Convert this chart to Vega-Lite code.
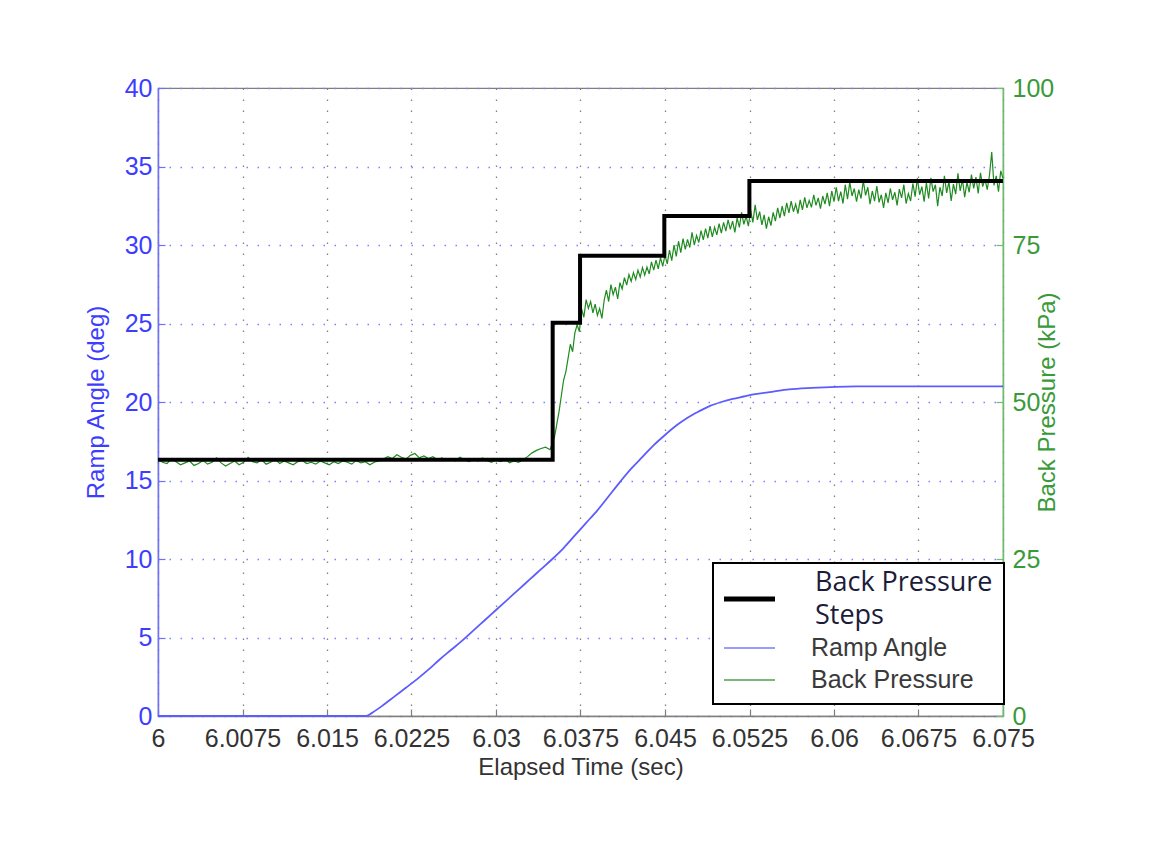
{
  "$schema": "https://vega.github.io/schema/vega-lite/v6.json",
  "width": 845,
  "height": 628,
  "autosize": {"type": "none"},
  "padding": {"left": 158, "top": 88, "right": 151, "bottom": 143},
  "background": "white",
  "config": {
    "view": {"stroke": "#7f7f7f", "strokeWidth": 1.2},
    "axis": {"labelFont": "Liberation Sans", "titleFont": "Liberation Sans", "labelFontSize": 25, "titleFontSize": 24, "titleFontWeight": "normal", "tickSize": -7, "tickWidth": 1.2, "domainWidth": 1.5, "labelFlush": false, "labelOverlap": false}
  },
  "datasets": {
    "ramp": [
      {"t": 6.0, "deg": 0}, {"t": 6.0185, "deg": 0}, {"t": 6.019, "deg": 0.2}, {"t": 6.02, "deg": 0.7}, {"t": 6.021, "deg": 1.25}, {"t": 6.022, "deg": 1.8}, {"t": 6.023, "deg": 2.35}, {"t": 6.024, "deg": 2.95}, {"t": 6.025, "deg": 3.6}, {"t": 6.026, "deg": 4.2}, {"t": 6.027, "deg": 4.8}, {"t": 6.028, "deg": 5.45}, {"t": 6.029, "deg": 6.1}, {"t": 6.03, "deg": 6.75}, {"t": 6.031, "deg": 7.4}, {"t": 6.032, "deg": 8.05}, {"t": 6.033, "deg": 8.7}, {"t": 6.034, "deg": 9.35}, {"t": 6.035, "deg": 10.0}, {"t": 6.036, "deg": 10.7}, {"t": 6.037, "deg": 11.5}, {"t": 6.038, "deg": 12.3}, {"t": 6.039, "deg": 13.1}, {"t": 6.04, "deg": 14.0}, {"t": 6.041, "deg": 14.9}, {"t": 6.042, "deg": 15.75}, {"t": 6.043, "deg": 16.5}, {"t": 6.044, "deg": 17.25}, {"t": 6.045, "deg": 17.9}, {"t": 6.046, "deg": 18.5}, {"t": 6.047, "deg": 19.0}, {"t": 6.048, "deg": 19.4}, {"t": 6.049, "deg": 19.75}, {"t": 6.05, "deg": 20.0}, {"t": 6.051, "deg": 20.2}, {"t": 6.052, "deg": 20.35}, {"t": 6.053, "deg": 20.5}, {"t": 6.0545, "deg": 20.65}, {"t": 6.056, "deg": 20.8}, {"t": 6.058, "deg": 20.9}, {"t": 6.062, "deg": 21.0}, {"t": 6.075, "deg": 21.0}
    ],
    "steps": [
      {"t": 6.0, "kpa": 40.8}, {"t": 6.03503, "kpa": 62.6}, {"t": 6.03746, "kpa": 73.3}, {"t": 6.04494, "kpa": 79.6}, {"t": 6.05249, "kpa": 85.2}, {"t": 6.075, "kpa": 85.2}
    ],
    "bp": [
      {"t":6.0000,"p":40.9},{"t":6.0004,"p":40.4},{"t":6.0008,"p":40.2},{"t":6.0012,"p":41.0},{"t":6.0016,"p":40.5},{"t":6.0020,"p":40.0},{"t":6.0024,"p":40.3},{"t":6.0028,"p":40.6},{"t":6.0032,"p":39.9},{"t":6.0036,"p":40.2},
      {"t":6.0040,"p":40.7},{"t":6.0044,"p":40.1},{"t":6.0048,"p":40.4},{"t":6.0052,"p":41.1},{"t":6.0056,"p":40.3},{"t":6.0060,"p":39.8},{"t":6.0064,"p":40.2},{"t":6.0068,"p":40.6},{"t":6.0072,"p":40.0},{"t":6.0076,"p":40.4},
      {"t":6.0080,"p":41.2},{"t":6.0084,"p":40.5},{"t":6.0088,"p":40.3},{"t":6.0092,"p":40.8},{"t":6.0096,"p":40.1},{"t":6.0100,"p":40.4},{"t":6.0104,"p":40.9},{"t":6.0108,"p":40.2},{"t":6.0112,"p":40.6},{"t":6.0116,"p":40.3},
      {"t":6.0120,"p":40.0},{"t":6.0124,"p":40.5},{"t":6.0128,"p":40.7},{"t":6.0132,"p":40.2},{"t":6.0136,"p":40.4},{"t":6.0140,"p":40.1},{"t":6.0144,"p":40.6},{"t":6.0148,"p":40.3},{"t":6.0152,"p":40.0},{"t":6.0156,"p":40.5},
      {"t":6.0160,"p":40.2},{"t":6.0164,"p":40.6},{"t":6.0168,"p":40.4},{"t":6.0172,"p":40.1},{"t":6.0176,"p":40.7},{"t":6.0180,"p":40.3},{"t":6.0184,"p":40.5},{"t":6.0188,"p":40.0},{"t":6.0192,"p":40.4},{"t":6.0196,"p":40.6},
      {"t":6.0200,"p":40.9},{"t":6.0204,"p":41.3},{"t":6.0208,"p":41.0},{"t":6.0212,"p":41.6},{"t":6.0216,"p":41.2},{"t":6.0220,"p":40.9},{"t":6.0224,"p":41.5},{"t":6.0228,"p":41.8},{"t":6.0232,"p":41.1},{"t":6.0236,"p":41.4},
      {"t":6.0240,"p":41.0},{"t":6.0244,"p":41.3},{"t":6.0248,"p":40.8},{"t":6.0252,"p":41.1},{"t":6.0256,"p":40.7},{"t":6.0260,"p":41.0},{"t":6.0264,"p":40.6},{"t":6.0268,"p":41.2},{"t":6.0272,"p":40.8},{"t":6.0276,"p":40.5},
      {"t":6.0280,"p":40.9},{"t":6.0284,"p":40.6},{"t":6.0288,"p":41.1},{"t":6.0292,"p":40.7},{"t":6.0296,"p":40.4},{"t":6.0300,"p":40.8},{"t":6.0304,"p":40.5},{"t":6.0308,"p":40.9},{"t":6.0312,"p":40.3},{"t":6.0316,"p":40.6},
      {"t":6.0320,"p":40.4},{"t":6.0324,"p":40.8},{"t":6.0328,"p":41.3},{"t":6.0332,"p":41.9},{"t":6.0336,"p":42.3},{"t":6.0340,"p":42.6},
      {"t":6.0344,"p":42.8},{"t":6.0348,"p":42.4},{"t":6.0352,"p":44.5},{"t":6.0354,"p":46.5},{"t":6.0356,"p":48.5},{"t":6.0358,"p":51.0},{"t":6.0360,"p":53.5},{"t":6.0362,"p":54.8},{"t":6.0364,"p":57.0},{"t":6.0366,"p":59.2},
      {"t":6.0368,"p":58.0},{"t":6.0370,"p":61.0},{"t":6.0372,"p":62.3},{"t":6.0374,"p":61.2},{"t":6.0376,"p":64.8},{"t":6.0378,"p":63.5},{"t":6.0380,"p":66.3},{"t":6.0382,"p":64.9},{"t":6.0384,"p":66.0},{"t":6.0386,"p":64.2},
      {"t":6.0388,"p":65.6},{"t":6.0390,"p":63.8},{"t":6.0392,"p":64.9},{"t":6.0394,"p":63.3},{"t":6.0396,"p":66.2},{"t":6.0398,"p":67.8},{"t":6.0400,"p":66.0},{"t":6.0402,"p":68.7},{"t":6.0404,"p":67.1},{"t":6.0406,"p":68.3},
      {"t":6.0408,"p":66.4},{"t":6.0410,"p":69.0},{"t":6.0412,"p":68.0},{"t":6.0414,"p":69.8},{"t":6.0416,"p":68.6},{"t":6.0418,"p":70.3},{"t":6.0420,"p":69.2},{"t":6.0422,"p":70.6},{"t":6.0424,"p":69.5},{"t":6.0426,"p":71.0},
      {"t":6.0428,"p":69.9},{"t":6.0430,"p":71.4},{"t":6.0432,"p":70.2},{"t":6.0434,"p":71.5},{"t":6.0436,"p":70.4},{"t":6.0438,"p":72.3},{"t":6.0440,"p":71.0},{"t":6.0442,"p":72.6},{"t":6.0444,"p":71.2},{"t":6.0446,"p":73.0},
      {"t":6.0448,"p":71.6},{"t":6.0450,"p":73.4},{"t":6.0452,"p":72.0},{"t":6.0454,"p":74.2},{"t":6.0456,"p":72.5},{"t":6.0458,"p":75.0},{"t":6.0460,"p":73.2},{"t":6.0462,"p":75.6},{"t":6.0464,"p":73.8},{"t":6.0466,"p":76.0},
      {"t":6.0468,"p":74.3},{"t":6.0470,"p":75.9},{"t":6.0472,"p":74.6},{"t":6.0474,"p":77.0},{"t":6.0476,"p":75.0},{"t":6.0478,"p":76.5},{"t":6.0480,"p":75.4},{"t":6.0482,"p":77.3},{"t":6.0484,"p":75.8},{"t":6.0486,"p":77.6},
      {"t":6.0488,"p":76.1},{"t":6.0490,"p":78.0},{"t":6.0492,"p":76.3},{"t":6.0494,"p":77.8},{"t":6.0496,"p":76.6},{"t":6.0498,"p":78.4},{"t":6.0500,"p":76.9},{"t":6.0502,"p":78.6},{"t":6.0504,"p":77.2},{"t":6.0506,"p":79.0},
      {"t":6.0508,"p":77.5},{"t":6.0510,"p":78.8},{"t":6.0512,"p":77.0},{"t":6.0514,"p":79.3},{"t":6.0516,"p":77.8},{"t":6.0518,"p":80.2},{"t":6.0520,"p":78.3},{"t":6.0522,"p":79.6},{"t":6.0524,"p":78.0},{"t":6.0526,"p":80.5},
      {"t":6.0528,"p":78.6},{"t":6.0530,"p":81.4},{"t":6.0532,"p":79.0},{"t":6.0534,"p":80.3},{"t":6.0536,"p":78.2},{"t":6.0538,"p":79.8},{"t":6.0540,"p":77.6},{"t":6.0542,"p":79.5},{"t":6.0544,"p":78.1},{"t":6.0546,"p":80.2},
      {"t":6.0548,"p":78.8},{"t":6.0550,"p":80.9},{"t":6.0552,"p":79.3},{"t":6.0554,"p":81.2},{"t":6.0556,"p":79.6},{"t":6.0558,"p":81.7},{"t":6.0560,"p":80.1},{"t":6.0562,"p":82.0},{"t":6.0564,"p":80.3},{"t":6.0566,"p":81.5},
      {"t":6.0568,"p":80.0},{"t":6.0570,"p":82.2},{"t":6.0572,"p":80.6},{"t":6.0574,"p":82.6},{"t":6.0576,"p":80.9},{"t":6.0578,"p":82.1},{"t":6.0580,"p":81.0},{"t":6.0582,"p":83.0},{"t":6.0584,"p":81.3},{"t":6.0586,"p":82.5},
      {"t":6.0588,"p":80.8},{"t":6.0590,"p":82.8},{"t":6.0592,"p":81.5},{"t":6.0594,"p":83.3},{"t":6.0596,"p":81.2},{"t":6.0598,"p":83.6},{"t":6.0600,"p":81.9},{"t":6.0602,"p":84.2},{"t":6.0604,"p":82.0},{"t":6.0606,"p":83.5},
      {"t":6.0608,"p":81.6},{"t":6.0610,"p":84.6},{"t":6.0612,"p":82.3},{"t":6.0614,"p":85.0},{"t":6.0616,"p":82.8},{"t":6.0618,"p":84.0},{"t":6.0620,"p":81.9},{"t":6.0622,"p":83.8},{"t":6.0624,"p":82.4},{"t":6.0626,"p":85.3},
      {"t":6.0628,"p":82.9},{"t":6.0630,"p":84.2},{"t":6.0632,"p":81.5},{"t":6.0634,"p":83.6},{"t":6.0636,"p":82.0},{"t":6.0638,"p":84.4},{"t":6.0640,"p":81.8},{"t":6.0642,"p":83.0},{"t":6.0644,"p":80.9},{"t":6.0646,"p":83.3},
      {"t":6.0648,"p":81.7},{"t":6.0650,"p":84.0},{"t":6.0652,"p":82.2},{"t":6.0654,"p":83.4},{"t":6.0656,"p":81.3},{"t":6.0658,"p":83.9},{"t":6.0660,"p":82.5},{"t":6.0662,"p":84.6},{"t":6.0664,"p":81.6},{"t":6.0666,"p":83.2},
      {"t":6.0668,"p":82.0},{"t":6.0670,"p":84.8},{"t":6.0672,"p":82.7},{"t":6.0674,"p":85.6},{"t":6.0676,"p":83.0},{"t":6.0678,"p":84.3},{"t":6.0680,"p":81.9},{"t":6.0682,"p":84.9},{"t":6.0684,"p":82.4},{"t":6.0686,"p":85.7},
      {"t":6.0688,"p":83.5},{"t":6.0690,"p":84.6},{"t":6.0692,"p":81.2},{"t":6.0694,"p":84.2},{"t":6.0696,"p":82.8},{"t":6.0698,"p":86.0},{"t":6.0700,"p":83.3},{"t":6.0702,"p":85.1},{"t":6.0704,"p":82.0},{"t":6.0706,"p":84.7},
      {"t":6.0708,"p":83.1},{"t":6.0710,"p":86.4},{"t":6.0712,"p":83.6},{"t":6.0714,"p":85.4},{"t":6.0716,"p":82.6},{"t":6.0718,"p":85.0},{"t":6.0720,"p":83.4},{"t":6.0722,"p":86.2},{"t":6.0724,"p":84.0},{"t":6.0726,"p":85.8},
      {"t":6.0728,"p":83.2},{"t":6.0730,"p":86.5},{"t":6.0732,"p":84.3},{"t":6.0734,"p":85.5},{"t":6.0736,"p":83.8},{"t":6.0738,"p":86.1},{"t":6.0740,"p":89.8},{"t":6.0742,"p":84.5},{"t":6.0744,"p":86.0},{"t":6.0746,"p":83.5},
      {"t":6.0748,"p":86.8},{"t":6.0750,"p":85.6}
    ]
  },
  "layer": [
    {
      "data": {"name": "ramp"},
      "mark": {"type": "line", "strokeWidth": 1.8, "interpolate": "monotone"},
      "encoding": {
        "x": {
          "field": "t", "type": "quantitative",
          "scale": {"domain": [6, 6.075], "nice": false, "zero": false},
          "axis": {"values": [6, 6.0075, 6.015, 6.0225, 6.03, 6.0375, 6.045, 6.0525, 6.06, 6.0675, 6.075], "format": ".4~f", "title": "Elapsed Time (sec)", "labelColor": "#333333", "titleColor": "#333333", "domainColor": "#7f7f7f", "tickColor": "#7f7f7f", "grid": true, "gridColor": "#808080", "gridDash": [1.5, 9.5], "gridWidth": 1.3, "labelPadding": 17, "titlePadding": 4}
        },
        "y": {
          "field": "deg", "type": "quantitative",
          "scale": {"domain": [0, 40], "nice": false},
          "axis": {"values": [0, 5, 10, 15, 20, 25, 30, 35, 40], "title": "Ramp Angle (deg)", "labelColor": "#3d3dff", "titleColor": "#3d3dff", "domainColor": "#7070ff", "tickColor": "#7070ff", "grid": true, "gridColor": "#8080ff", "gridDash": [1.5, 9.5], "gridWidth": 1.3, "labelPadding": 13, "titlePadding": 16}
        },
        "color": {
          "datum": "Ramp Angle", "type": "nominal",
          "scale": {"domain": ["Back Pressure Steps", "Ramp Angle", "Back Pressure"], "range": ["#000000", "#5c5cff", "#1f8a1f"]},
          "legend": {
            "title": null, "orient": "none", "legendX": 555, "legendY": 475,
            "fillColor": "white", "strokeColor": "black", "padding": 11,
            "symbolType": "stroke", "symbolSize": 5929, "symbolStrokeWidth": 2,
            "clipHeight": 20, "rowPadding": 7, "labelOffset": 9, "labelLimit": 400,
            "labelFont": "Liberation Sans", "labelFontSize": 25, "labelColor": "#3a3a3a",
            "labelExpr": "datum.value == 'Back Pressure Steps' ? ['Back Pressure', 'Steps'] : datum.label",
            "encode": {
              "labels": {"update": {
                "font": {"signal": "datum.value == 'Back Pressure Steps' ? 'Open Sans' : 'Liberation Sans'"},
                "fontSize": {"signal": "datum.value == 'Back Pressure Steps' ? 27 : 25"},
                "fill": {"signal": "datum.value == 'Back Pressure Steps' ? '#1c1c3a' : '#3a3a3a'"},
                "dx": {"signal": "datum.value == 'Back Pressure Steps' ? 57 : 53"},
                "dy": {"signal": "datum.value == 'Back Pressure Steps' ? -1 : 0"},
                "lineHeight": {"value": 33}
              }},
              "symbols": {"update": {
                "y": {"signal": "datum.value == 'Back Pressure Steps' ? 25 : 10"},
                "strokeWidth": {"signal": "datum.value == 'Back Pressure Steps' ? 5 : 2"},
                "opacity": {"signal": "datum.value == 'Back Pressure Steps' ? 1 : 0.6"}
              }},
              "legend": {"update": {"strokeWidth": {"value": 2}}}
            }
          }
        }
      }
    },
    {
      "data": {"name": "bp"},
      "mark": {"type": "line", "strokeWidth": 1.2},
      "encoding": {
        "x": {"field": "t", "type": "quantitative"},
        "y": {
          "field": "p", "type": "quantitative",
          "scale": {"domain": [0, 100], "nice": false},
          "axis": {"orient": "right", "values": [0, 25, 50, 75, 100], "title": "Back Pressure (kPa)", "titleAngle": 270, "labelColor": "#3a9a3a", "titleColor": "#3a9a3a", "domainColor": "#6cbf6c", "tickColor": "#6cbf6c", "grid": false, "labelPadding": 16, "titlePadding": 6}
        },
        "color": {"datum": "Back Pressure", "type": "nominal"}
      }
    },
    {
      "data": {"name": "steps"},
      "mark": {"type": "line", "strokeWidth": 4, "interpolate": "step-after"},
      "encoding": {
        "x": {"field": "t", "type": "quantitative"},
        "y": {"field": "kpa", "type": "quantitative", "scale": {"domain": [0, 100], "nice": false}, "axis": null},
        "color": {"datum": "Back Pressure Steps", "type": "nominal"}
      }
    }
  ],
  "resolve": {"scale": {"y": "independent"}}
}
